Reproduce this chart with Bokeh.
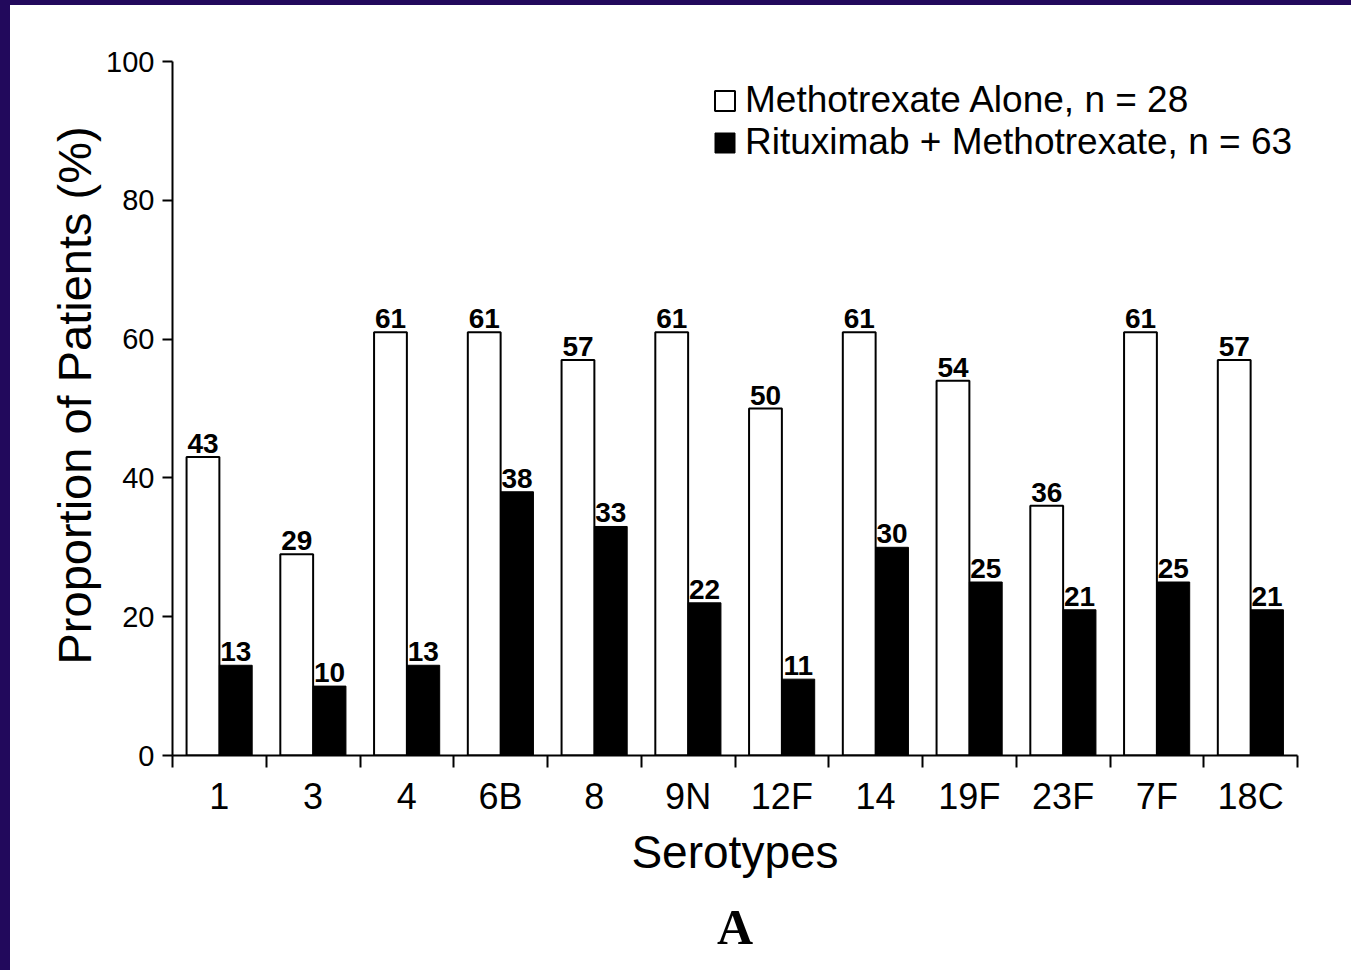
from bokeh.core.properties import value
from bokeh.embed import file_html
from bokeh.layouts import column
from bokeh.models import (ColumnDataSource, FixedTicker, LabelSet, Legend,
                          LegendItem, Range1d, Title)
from bokeh.plotting import figure
from bokeh.resources import INLINE

# Antibody response by pneumococcal serotype
serotypes = ["1", "3", "4", "6B", "8", "9N", "12F", "14", "19F", "23F", "7F", "18C"]
methotrexate_alone = [43, 29, 61, 61, 57, 61, 50, 61, 54, 36, 61, 57]
rituximab_methotrexate = [13, 10, 13, 38, 33, 22, 11, 30, 25, 21, 25, 21]
y_ticks = [0, 20, 40, 60, 80, 100]
legend_labels = ["Methotrexate Alone, n = 28", "Rituximab + Methotrexate, n = 63"]

FONT = "Liberation Sans"
NBSP = "\u00a0"
idx = list(range(len(serotypes)))

src = ColumnDataSource(dict(
    x_mtx=[i + 0.325 for i in idx],
    x_rtx=[i + 0.675 for i in idx],
    mtx=methotrexate_alone,
    rtx=rituximab_methotrexate,
    mtx_lbl=[str(v) for v in methotrexate_alone],
    rtx_lbl=[str(v) for v in rituximab_methotrexate],
))

p = figure(width=1341, height=965, x_range=Range1d(0, len(serotypes)),
           y_range=Range1d(0, 100), output_backend="svg", toolbar_location=None,
           min_border_left=162, min_border_right=54, min_border_top=56,
           min_border_bottom=215, background_fill_color="white",
           border_fill_color="white", styles={"background-color": "white"})
p.outline_line_color = None
p.xgrid.visible = False
p.ygrid.visible = False

r_mtx = p.vbar(x="x_mtx", top="mtx", width=0.35, bottom=0, source=src,
               fill_color="white", line_color="black", line_width=2)
r_rtx = p.vbar(x="x_rtx", top="rtx", width=0.35, bottom=0, source=src,
               fill_color="black", line_color="black", line_width=1)

for xcol, ycol, tcol in [("x_mtx", "mtx", "mtx_lbl"), ("x_rtx", "rtx", "rtx_lbl")]:
    p.add_layout(LabelSet(x=xcol, y=ycol, text=tcol, source=src, text_align="center",
                          text_baseline="alphabetic", y_offset=4, text_font=value(FONT),
                          text_font_style="bold", text_font_size="28px",
                          text_color="black"))

# x axis: serotype names centred in each group, tick marks between groups
xa = p.xaxis[0]
xa.ticker = FixedTicker(ticks=[i + 0.5 for i in idx], minor_ticks=list(range(len(serotypes) + 1)))
xa.major_label_overrides = {i + 0.5: s for i, s in zip(idx, serotypes)}
xa.major_tick_out = 12
xa.major_tick_in = 0
xa.major_tick_line_color = None
xa.minor_tick_out = 12
xa.minor_tick_in = 0
xa.minor_tick_line_color = "black"
xa.minor_tick_line_width = 2
xa.axis_line_width = 2
xa.axis_line_color = "black"
xa.major_label_standoff = 8
xa.major_label_text_font = FONT
xa.major_label_text_font_size = "36px"
xa.major_label_text_color = "black"
xa.axis_label = "Serotypes"
xa.axis_label_text_font = FONT
xa.axis_label_text_font_style = "normal"
xa.axis_label_text_font_size = "46px"
xa.axis_label_text_color = "black"
xa.axis_label_standoff = 6

ya = p.yaxis[0]
ya.ticker = FixedTicker(ticks=y_ticks, minor_ticks=[])
ya.major_tick_out = 10
ya.major_tick_in = 0
ya.major_tick_line_width = 2
ya.major_tick_line_color = "black"
ya.axis_line_width = 2
ya.axis_line_color = "black"
ya.major_label_standoff = 8
ya.major_label_text_font = FONT
ya.major_label_text_font_size = "29px"
ya.major_label_text_color = "black"
# leading non-breaking spaces lift the title a little above the frame centre
ya.axis_label = NBSP * 2 + "Proportion of Patients (%)"
ya.axis_label_text_font = FONT
ya.axis_label_text_font_style = "normal"
ya.axis_label_text_font_size = "47px"
ya.axis_label_text_color = "black"
ya.axis_label_standoff = 2

p.add_layout(Title(text="A", align="center", text_font="Liberation Serif",
                   text_font_style="bold", text_font_size="50px",
                   text_color="black", standoff=32), "below")

legend = Legend(items=[LegendItem(label=legend_labels[0], renderers=[r_mtx]),
                       LegendItem(label=legend_labels[1], renderers=[r_rtx])],
                location=(540, 592), border_line_color=None, background_fill_alpha=0,
                padding=0, margin=0, spacing=0, glyph_width=25, glyph_height=25,
                label_standoff=8, label_text_font=FONT, label_text_font_size="37px",
                label_text_color="black")
p.add_layout(legend)

page = column(p, styles={"background-color": "#22095c", "padding-left": "10px",
                         "padding-top": "5px"})

open("out.html", "w").write(file_html(page, INLINE))
